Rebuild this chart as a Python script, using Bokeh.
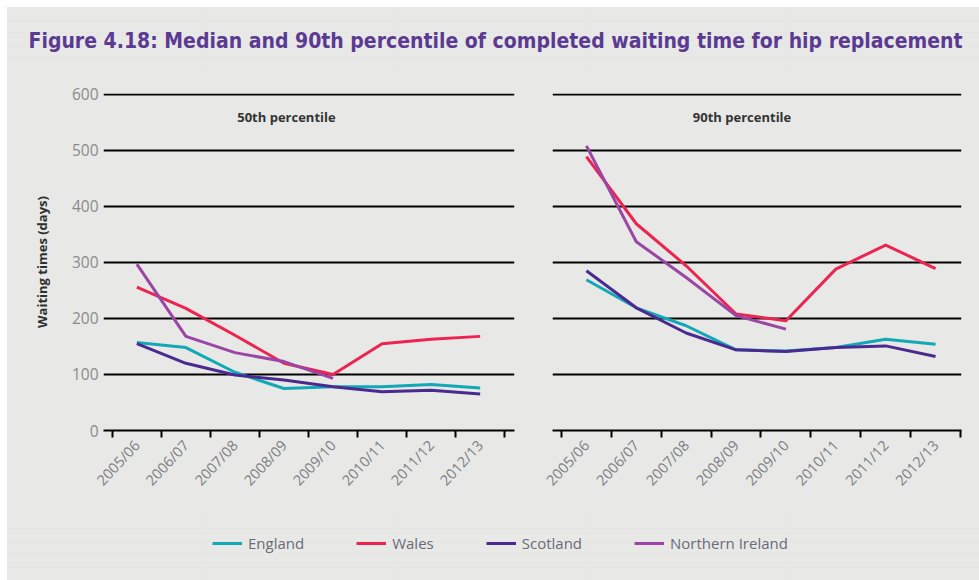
from bokeh.plotting import figure
from bokeh.models import (Range1d, FixedTicker, Grid, Label, Legend, LegendItem,
                          ColumnDataSource, Spacer)
from bokeh.layouts import column, row
from bokeh.embed import file_html
from bokeh.resources import INLINE

# ---------------- data ----------------
categories = ["2005/06", "2006/07", "2007/08", "2008/09",
              "2009/10", "2010/11", "2011/12", "2012/13"]

series_names = ["England", "Wales", "Scotland", "Northern Ireland"]

p50_england = [157, 148, 104, 75, 78, 78, 82, 76]
p50_wales = [256, 218, 170, 120, 100, 155, 163, 168]
p50_scotland = [155, 120, 99, 90, 78, 69, 72, 65]
p50_ni = [297, 168, 139, 123, 93]

p90_england = [269, 219, 187, 144, 142, 148, 163, 154]
p90_wales = [489, 369, 294, 208, 196, 288, 331, 289]
p90_scotland = [285, 219, 174, 144, 141, 148, 151, 132]
p90_ni = [508, 337, 273, 205, 181]

y_ticks = [0, 100, 200, 300, 400, 500, 600]

# ---------------- style ----------------
BG = "#e8e9e6"
COLORS = ["#12a8b6", "#ec2452", "#4b2a8f", "#9b45a6"]
TITLE_COLOR = "#5b3a93"
FONT = "Open Sans"
TITLE_FONT = "'DejaVu Sans Condensed', Lato, sans-serif"

centers = [i + 0.5 for i in range(len(categories))]
bounds = [i for i in range(len(categories) + 1)]
label_map = {c: lab for c, lab in zip(centers, categories)}

OFF = 7
W_TOTAL = 972
H_HEAD = 63
H_ROW = 445
H_FOOT = 65

y_range = Range1d(0, 601.5)


def make_panel(width, x_range, left_border, right_border, show_y):
    p = figure(width=width, height=H_ROW, x_range=x_range, y_range=y_range,
               output_backend="svg", toolbar_location=None,
               y_axis_location="left" if show_y else None,
               min_border_left=left_border, min_border_right=right_border,
               min_border_top=23, min_border_bottom=85)
    p.background_fill_color = BG
    p.border_fill_color = BG
    p.outline_line_color = None
    p.xgrid.visible = False
    if show_y:
        p.ygrid.visible = False
    p.add_layout(Grid(dimension=1, ticker=FixedTicker(ticks=y_ticks),
                      grid_line_color="black", grid_line_width=2))
    xa = p.xaxis[0]
    xa.ticker = FixedTicker(ticks=centers, minor_ticks=bounds)
    xa.major_label_overrides = label_map
    xa.major_tick_line_color = None
    xa.major_tick_out = 7
    xa.major_tick_in = 0
    xa.minor_tick_line_color = "black"
    xa.minor_tick_line_width = 2
    xa.minor_tick_out = 7
    xa.minor_tick_in = 0
    xa.axis_line_color = "black"
    xa.axis_line_width = 2
    xa.major_label_orientation = 0.82
    xa.major_label_standoff = 5
    xa.major_label_text_font = FONT
    xa.major_label_text_font_size = "14.5px"
    xa.major_label_text_color = "#7d7d84"
    if show_y:
        ya = p.yaxis[0]
        ya.ticker = FixedTicker(ticks=y_ticks)
        ya.axis_line_color = None
        ya.major_tick_line_color = None
        ya.minor_tick_line_color = None
        ya.major_tick_out = 0
        ya.major_label_standoff = 5
        ya.major_label_text_font = FONT
        ya.major_label_text_font_size = "15.5px"
        ya.major_label_text_color = "#8b8b8b"
        ya.axis_label = "Waiting times (days)"
        ya.axis_label_text_font = FONT
        ya.axis_label_text_font_style = "bold"
        ya.axis_label_text_font_size = "13px"
        ya.axis_label_text_color = "#2f2f2f"
        ya.axis_label_standoff = 18
    return p


def draw_series(p, data):
    rs = []
    for vals, color in zip(data, COLORS):
        src = ColumnDataSource(dict(x=centers[:len(vals)], y=vals))
        rs.append(p.line("x", "y", source=src, line_color=color, line_width=3,
                         line_join="round"))
    return rs


p1 = make_panel(526, Range1d(-0.18, 8.2), 96, 19, True)
p2 = make_panel(446, Range1d(-0.18, 8.02), 19, 18, False)

draw_series(p1, [p50_england, p50_wales, p50_scotland, p50_ni])
draw_series(p2, [p90_england, p90_wales, p90_scotland, p90_ni])

for p, txt, xpos in [(p1, "50th percentile", 3.55), (p2, "90th percentile", 3.62)]:
    p.add_layout(Label(x=xpos, y=560, text=txt, text_align="center",
                       text_baseline="middle", text_font=FONT,
                       text_font_style="bold", text_font_size="13px",
                       text_color="#333333"))

# ---------------- head (title) ----------------
head = figure(width=W_TOTAL, height=H_HEAD, x_range=Range1d(0, 1),
              y_range=Range1d(0, 1), output_backend="svg",
              toolbar_location=None, x_axis_location=None,
              y_axis_location=None, min_border=0)
head.background_fill_color = BG
head.border_fill_color = BG
head.outline_line_color = None
head.add_layout(Label(x=21, y=30, x_units="screen", y_units="screen",
                      text="Figure 4.18: Median and 90th percentile of completed waiting time for hip replacement",
                      text_font=TITLE_FONT,
                      text_font_style="bold", text_font_size="21px",
                      text_color=TITLE_COLOR, text_baseline="middle",
                      text_align="left"))

# ---------------- foot (legend) ----------------
# legend swatches reference series placed outside the foot's visible range
foot = figure(width=W_TOTAL, height=H_FOOT, x_range=Range1d(100, 101),
              y_range=Range1d(1000, 1001), output_backend="svg",
              toolbar_location=None, x_axis_location=None,
              y_axis_location=None, min_border=0)
foot.background_fill_color = BG
foot.border_fill_color = BG
foot.outline_line_color = None
legend_rs = draw_series(foot, [p50_england, p50_wales, p50_scotland, p50_ni])
items = [LegendItem(label=name, renderers=[r])
         for name, r in zip(series_names, legend_rs)]
legend = Legend(items=items, orientation="horizontal", location=(205, 27),
                glyph_width=30, glyph_height=20, label_height=20,
                label_standoff=6, spacing=52, padding=0, margin=0,
                border_line_color=None, background_fill_alpha=0,
                label_text_font=FONT, label_text_font_size="15px",
                label_text_color="#6a6a78")
foot.add_layout(legend, "center")

inner = column(head,
               row(p1, p2, spacing=0, styles={"background-color": BG}),
               foot, spacing=0, styles={"background-color": BG})
layout = column(Spacer(width=W_TOTAL + OFF, height=OFF),
                row(Spacer(width=OFF, height=10), inner, spacing=0),
                spacing=0)

open("out.html", "w").write(file_html(layout, INLINE))
